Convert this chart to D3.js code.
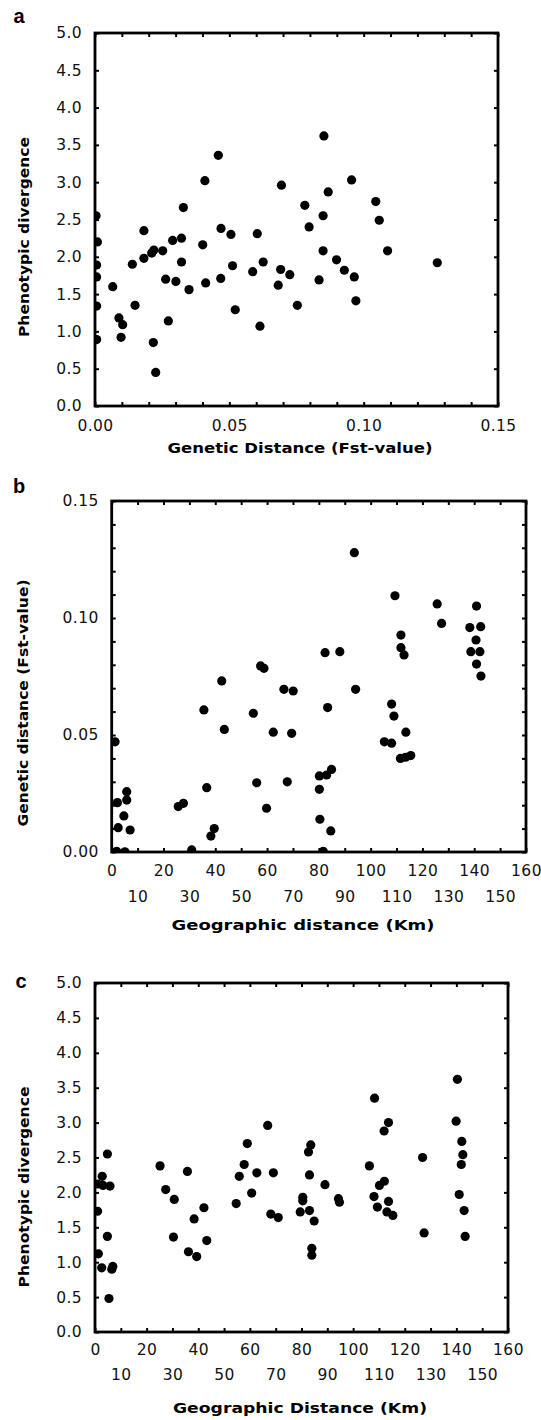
<!DOCTYPE html>
<html>
<head>
<meta charset="utf-8">
<script src="https://cdn.jsdelivr.net/npm/d3@7"></script>
<style>
  body { margin: 0; background: #fff; }
  svg { display: block; }
</style>
</head>
<body>
<div id="chart"></div>
<script>
// ---- data ----
// panel a: genetic distance (Fst) vs phenotypic divergence
const aFst = [0.0004, 0.0009, 0.0006, 0.0006, 0.0006, 0.0006, 0.0066, 0.0089, 0.0103, 0.0097, 0.0139, 0.0149,
  0.0182, 0.0182, 0.0211, 0.0219, 0.0217, 0.0226, 0.0252, 0.0263, 0.0273, 0.0289, 0.0301, 0.0322, 0.0322,
  0.0329, 0.0350, 0.0401, 0.0409, 0.0412, 0.0459, 0.0469, 0.0468, 0.0506, 0.0512, 0.0522, 0.0587, 0.0604,
  0.0614, 0.0626, 0.0682, 0.0691, 0.0694, 0.0725, 0.0753, 0.0781, 0.0797, 0.0834, 0.0849, 0.0849, 0.0852,
  0.0868, 0.0899, 0.0928, 0.0955, 0.0965, 0.0971, 0.1045, 0.1058, 0.1089, 0.1274];
const aPheno = [2.55, 2.20, 1.89, 1.73, 1.34, 0.89, 1.60, 1.18, 1.09, 0.92, 1.90, 1.35,
  2.35, 1.98, 2.05, 2.09, 0.85, 0.45, 2.08, 1.70, 1.14, 2.22, 1.67, 2.25, 1.93,
  2.66, 1.56, 2.16, 3.02, 1.65, 3.36, 2.38, 1.71, 2.30, 1.88, 1.29, 1.80, 2.31,
  1.07, 1.93, 1.62, 1.83, 2.96, 1.76, 1.35, 2.69, 2.40, 1.69, 2.55, 2.08, 3.62,
  2.87, 1.96, 1.82, 3.03, 1.73, 1.41, 2.74, 2.49, 2.08, 1.92];

// panel b: geographic distance (km) vs genetic distance (Fst)
const bKm = [42.5, 57.5, 58.8, 93.7, 109.4, 125.7, 127.4, 140.9, 138.3, 142.5, 140.7, 138.7, 142.2, 140.9,
  142.6, 111.7, 111.7, 112.9, 82.4, 88.1, 66.5, 70.1, 94.2, 35.6, 54.7, 43.5, 62.4, 1.3, 36.7, 56.0,
  2.2, 5.8, 5.8, 25.7, 27.7, 59.8, 4.7, 2.5, 7.1, 39.6, 38.3, 1.9, 5.1, 30.9, 108.1, 109.0, 83.4,
  69.5, 113.6, 105.3, 108.1, 111.5, 113.5, 115.5, 67.8, 80.2, 83.0, 84.9, 80.2, 80.4, 84.6, 81.7];
const bFst = [0.0731, 0.0795, 0.0785, 0.1279, 0.1095, 0.1060, 0.0977, 0.1051, 0.0959, 0.0963, 0.0906, 0.0856, 0.0856, 0.0803,
  0.0752, 0.0927, 0.0873, 0.0842, 0.0852, 0.0856, 0.0695, 0.0688, 0.0695, 0.0607, 0.0593, 0.0524, 0.0512, 0.0471, 0.0275, 0.0296,
  0.0211, 0.0222, 0.0258, 0.0194, 0.0208, 0.0187, 0.0154, 0.0104, 0.0094, 0.0100, 0.0068, 0.0003, 0.0001, 0.0009, 0.0632, 0.0581, 0.0617,
  0.0507, 0.0512, 0.0471, 0.0465, 0.0400, 0.0405, 0.0412, 0.0300, 0.0325, 0.0329, 0.0353, 0.0268, 0.0140, 0.0090, 0.0003];

// panel c: geographic distance (km) vs phenotypic divergence
const cKm = [4.8, 59.0, 66.9, 108.3, 140.4, 113.7, 112.0, 139.9, 142.1, 83.6, 82.7, 126.9, 142.5, 141.9,
  1.0, 2.8, 3.1, 5.8, 25.2, 27.4, 30.7, 35.8, 30.4, 36.2, 39.4, 38.4, 42.2, 43.3, 1.0, 1.3, 2.6, 6.5, 6.9,
  4.8, 5.4, 54.7, 55.9, 57.8, 60.7, 62.7, 69.1, 68.1, 71.0, 83.1, 89.1, 80.5, 80.5, 79.5, 83.1, 84.9,
  84.0, 84.0, 94.3, 94.7, 106.3, 110.2, 112.1, 108.1, 109.4, 113.7, 113.1, 115.4, 127.5, 141.1, 143.0, 143.4];
const cPheno = [2.55, 2.70, 2.96, 3.35, 3.62, 3.00, 2.88, 3.02, 2.73, 2.68, 2.58, 2.50, 2.54, 2.40,
  2.12, 2.23, 2.10, 2.09, 2.38, 2.04, 1.90, 2.30, 1.36, 1.15, 1.08, 1.62, 1.78, 1.31, 1.73, 1.12, 0.92, 0.90, 0.94,
  1.37, 0.48, 1.84, 2.23, 2.40, 1.99, 2.28, 2.28, 1.69, 1.64, 2.25, 2.11, 1.93, 1.88, 1.72, 1.74, 1.59,
  1.20, 1.10, 1.91, 1.86, 2.38, 2.10, 2.16, 1.94, 1.79, 1.87, 1.72, 1.67, 1.42, 1.97, 1.74, 1.37];

// ticks
const phenoTicks = [0, 0.5, 1, 1.5, 2, 2.5, 3, 3.5, 4, 4.5, 5];
const fstLabelTicks = [0, 0.05, 0.10, 0.15];
const fstMinorTicks = d3.range(0, 0.1501, 0.01);
const kmRow1 = [0, 20, 40, 60, 80, 100, 120, 140, 160];
const kmRow2 = [10, 30, 50, 70, 90, 110, 130, 150];
const kmTicks = d3.range(0, 161, 10);

// ---- drawing ----
const W = 541, H = 1420;
const TICK_FONT = "'DejaVu Sans', sans-serif";
const TITLE_FONT = "'DejaVu Sans', sans-serif";

const svg = d3.select('#chart').append('svg')
  .attr('width', W).attr('height', H)
  .style('background', '#fff');

function drawPanel(p) {
  const x = d3.scaleLinear().domain(p.xDomain).range([p.left, p.right]);
  const y = d3.scaleLinear().domain(p.yDomain).range([p.bottom, p.top]);
  const g = svg.append('g');

  // inward ticks on all four sides
  const tick = 4;
  g.append('g').attr('transform', `translate(0,${p.bottom})`)
    .call(d3.axisBottom(x).tickValues(p.xTicks).tickSize(-tick).tickFormat(''));
  g.append('g').attr('transform', `translate(0,${p.top})`)
    .call(d3.axisTop(x).tickValues(p.xTicks).tickSize(-tick).tickFormat(''));
  g.append('g').attr('transform', `translate(${p.left},0)`)
    .call(d3.axisLeft(y).tickValues(p.yTicks).tickSize(-tick).tickFormat(''));
  g.append('g').attr('transform', `translate(${p.right},0)`)
    .call(d3.axisRight(y).tickValues(p.yTicks).tickSize(-tick).tickFormat(''));
  g.selectAll('.domain').remove();
  g.selectAll('.tick line').attr('stroke', '#000').attr('stroke-width', 2);

  // tick labels
  const yl = g.append('g').attr('transform', `translate(${p.left},0)`)
    .call(d3.axisLeft(y).tickValues(p.yLabels).tickSize(0).tickPadding(13).tickFormat(p.yFormat));
  const xl = [];
  p.xRows.forEach(row => {
    xl.push(g.append('g').attr('transform', `translate(0,${p.bottom})`)
      .call(d3.axisBottom(x).tickValues(row.values).tickSize(0).tickPadding(row.pad).tickFormat(p.xFormat)));
  });
  [yl, ...xl].forEach(a => {
    a.select('.domain').remove();
    a.selectAll('text').attr('font-family', TICK_FONT).attr('font-size', 15.5)
      .attr('letter-spacing', 0.4).attr('fill', '#111');
  });

  // points
  const clipId = 'clip-' + p.name;
  g.append('clipPath').attr('id', clipId)
    .append('rect').attr('x', p.left).attr('y', p.top)
    .attr('width', p.right - p.left).attr('height', p.bottom - p.top);
  g.append('g').attr('clip-path', `url(#${clipId})`)
    .selectAll('circle').data(p.xs.map((v, i) => [v, p.ys[i]]))
    .join('circle')
      .attr('cx', d => x(d[0]))
      .attr('cy', d => y(d[1]))
      .attr('r', 4.6)
      .attr('fill', '#000');

  // frame
  g.append('rect')
    .attr('x', p.left).attr('y', p.top)
    .attr('width', p.right - p.left).attr('height', p.bottom - p.top)
    .attr('fill', 'none').attr('stroke', '#000').attr('stroke-width', 2.8);

  // axis titles
  g.append('text')
    .attr('x', p.xTitle.x).attr('y', p.xTitle.y)
    .attr('text-anchor', 'middle')
    .attr('font-family', TITLE_FONT).attr('font-weight', 'bold').attr('font-size', 14)
    .attr('textLength', p.xTitle.len).attr('lengthAdjust', 'spacingAndGlyphs')
    .text(p.xTitle.text);
  g.append('text')
    .attr('transform', `translate(${p.yTitle.x},${p.yTitle.y}) rotate(-90)`)
    .attr('text-anchor', 'middle')
    .attr('font-family', TITLE_FONT).attr('font-weight', 'bold').attr('font-size', 14)
    .attr('textLength', p.yTitle.len).attr('lengthAdjust', 'spacingAndGlyphs')
    .text(p.yTitle.text);

  // panel letter
  g.append('text')
    .attr('x', p.letter.x).attr('y', p.letter.y)
    .attr('text-anchor', 'middle')
    .attr('font-family', "'Liberation Sans', Arial, sans-serif").attr('font-weight', 'bold').attr('font-size', 20)
    .text(p.name);
}

drawPanel({
  name: 'a',
  left: 95, right: 498, top: 33, bottom: 406,
  xDomain: [0, 0.15], yDomain: [0, 5],
  xTicks: fstMinorTicks, yTicks: phenoTicks,
  yLabels: phenoTicks, yFormat: d3.format('.1f'),
  xRows: [{ values: fstLabelTicks, pad: 14 }], xFormat: d3.format('.2f'),
  xs: aFst, ys: aPheno,
  xTitle: { text: 'Genetic Distance (Fst-value)', x: 300, y: 453, len: 265 },
  yTitle: { text: 'Phenotypic divergence', x: 29, y: 237, len: 200 },
  letter: { x: 19, y: 23 }
});

drawPanel({
  name: 'b',
  left: 111.7, right: 526, top: 501, bottom: 852,
  xDomain: [0, 160], yDomain: [0, 0.15],
  xTicks: kmTicks, yTicks: fstMinorTicks,
  yLabels: fstLabelTicks, yFormat: d3.format('.2f'),
  xRows: [{ values: kmRow1, pad: 13 }, { values: kmRow2, pad: 39 }], xFormat: d3.format('d'),
  xs: bKm, ys: bFst,
  xTitle: { text: 'Geographic distance (Km)', x: 303, y: 930, len: 263 },
  yTitle: { text: 'Genetic distance (Fst-value)', x: 28, y: 703, len: 247 },
  letter: { x: 19, y: 493 }
});

drawPanel({
  name: 'c',
  left: 95, right: 508, top: 983, bottom: 1332,
  xDomain: [0, 160], yDomain: [0, 5],
  xTicks: kmTicks, yTicks: phenoTicks,
  yLabels: phenoTicks, yFormat: d3.format('.1f'),
  xRows: [{ values: kmRow1, pad: 12 }, { values: kmRow2, pad: 37 }], xFormat: d3.format('d'),
  xs: cKm, ys: cPheno,
  xTitle: { text: 'Geographic Distance (Km)', x: 300, y: 1413, len: 254 },
  yTitle: { text: 'Phenotypic divergence', x: 29, y: 1187, len: 201 },
  letter: { x: 21, y: 988 }
});
</script>
</body>
</html>
